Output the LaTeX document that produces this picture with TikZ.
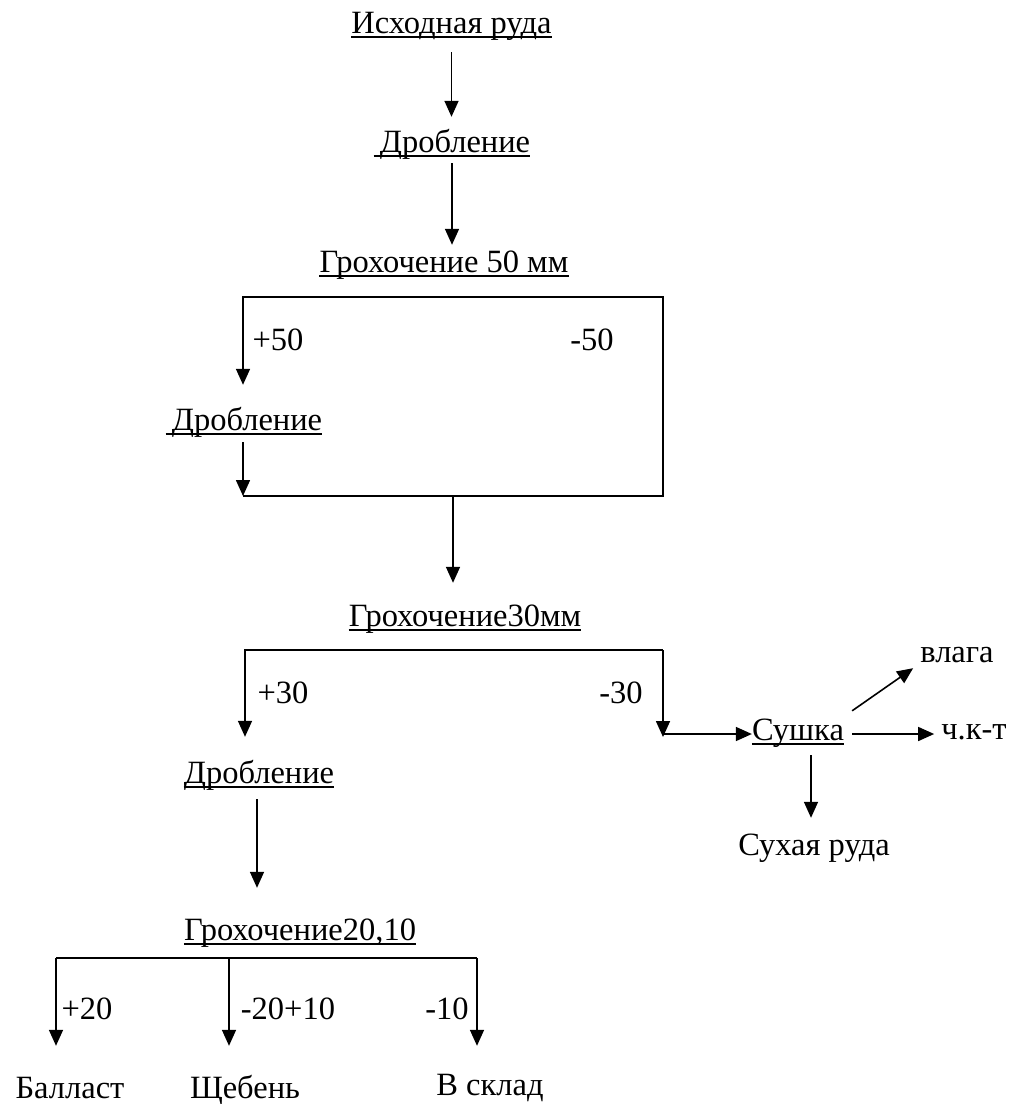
\documentclass[tikz,border=0pt]{standalone}
\usepackage{fontspec}
\setmainfont{Liberation Serif}
\usetikzlibrary{arrows.meta}
\tikzset{
  lbl/.style={inner sep=0pt, anchor=base, text height=19pt, text depth=7pt, font=\fontsize{32.5}{36}\selectfont},
  arr/.style={line width=1.6pt, -{Triangle[length=16pt,width=14pt]}},
  ln/.style={line width=1.6pt},
  ul/.style={line width=1.3pt}
}
\begin{document}
\begin{tikzpicture}[x=1pt,y=-1pt]
\useasboundingbox (0,0) rectangle (1012,1104);
% text nodes
\node[lbl] (src) at (451.5,33) {Исходная руда};
\node[lbl] (dr1) at (452,152) {\hspace{6pt}Дробление};
\node[lbl] (g50) at (444,272) {Грохочение 50 мм};
\node[lbl] (p50) at (278,350) {+50};
\node[lbl] (m50) at (592,350) {-50};
\node[lbl] (dr2) at (244,430) {\hspace{6pt}Дробление};
\node[lbl] (g30) at (465,626) {Грохочение30мм};
\node[lbl] (p30) at (283,703) {+30};
\node[lbl] (m30) at (621,703) {-30};
\node[lbl] (dr3) at (259,783) {Дробление};
\node[lbl] (g2010) at (300,940) {Грохочение20,10};
\node[lbl] (p20) at (87,1019) {+20};
\node[lbl] (m2010) at (288,1019) {-20+10};
\node[lbl] (m10) at (447,1019) {-10};
\node[lbl] (ballast) at (70,1098) {Балласт};
\node[lbl] (sheb) at (245,1098) {Щебень};
\node[lbl] (sklad) at (490,1095) {В склад};
\node[lbl] (sush) at (798,740) {Сушка};
\node[lbl] (vlaga) at (957,662) {влага};
\node[lbl] (chkt) at (974,739) {ч.к-т};
\node[lbl] (dry) at (814,855) {Сухая руда};
% underlines
\foreach \n in {src,dr1,g50,dr2,g30,dr3,g2010,sush}
  \draw[ul] ([yshift=-4pt]\n.base west) -- ([yshift=-4pt]\n.base east);
% bracket corners
\coordinate (b1) at (243,297);
\coordinate (b2) at (663,297);
\coordinate (b3) at (663,496);
\coordinate (b4) at (243,496);
\coordinate (b5) at (453,496);
\coordinate (c1) at (245,650);
\coordinate (c2) at (663,650);
\coordinate (d1) at (56,958);
\coordinate (d2) at (477,958);
\coordinate (d3) at (229,958);
% main flow
\draw[arr, shorten <=12pt, shorten >=16pt] (src.south) -- (src.south |- dr1.north);
\draw[arr, shorten <=4pt, shorten >=8pt] (dr1.south) -- (dr1.south |- g50.north);
% box around +50 / -50
\draw[arr] (b4) -- (b3) -- (b2) -- (b1) -- ([yshift=26pt]b1 |- dr2.north);
\draw[arr] ([yshift=-5pt]b1 |- dr2.south) -- (b4);
\draw[arr] (b5) -- ([yshift=24pt]b5 |- g30.north);
% bracket 30
\draw[arr] (c2) -- (c1) -- ([yshift=27pt]c1 |- dr3.north);
\draw[arr] (c2) -- ([yshift=3pt]c2 |- sush.base);
\draw[arr] ([yshift=6pt]c2 |- sush.base) -- ([yshift=6pt]sush.base west);
% drying
\draw[arr, shorten <=8pt, shorten >=7pt] ([yshift=6pt]sush.base east) -- ([yshift=6pt]sush.base east -| chkt.west);
\draw[arr] ([shift={(8pt,10pt)}]sush.north east) -- ([shift={(-7pt,1pt)}]vlaga.south west);
\draw[arr, shorten <=8pt, shorten >=18pt] ([xshift=13pt]sush.south) -- ([xshift=13pt]sush.south |- dry.north);
% lower part
\draw[arr, shorten <=9pt, shorten >=33pt] ([xshift=-2pt]dr3.south) -- ([xshift=-2pt]dr3.south |- g2010.north);
\draw[ln] (d1) -- (d2);
\draw[arr, shorten >=33pt] (d1) -- (d1 |- ballast.north);
\draw[arr, shorten >=33pt] (d3) -- (d3 |- sheb.north);
\draw[arr, shorten >=30pt] (d2) -- (d2 |- sklad.north);
\end{tikzpicture}
\end{document}
